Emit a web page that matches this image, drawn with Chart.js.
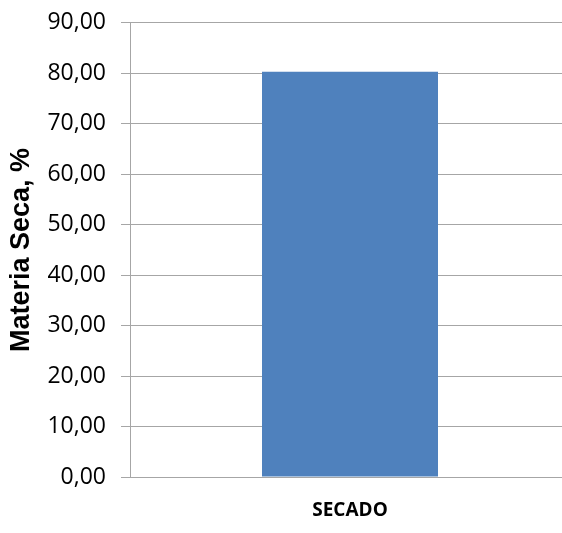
<!DOCTYPE html>
<html>
<head>
<meta charset="utf-8">
<script src="https://cdn.jsdelivr.net/npm/chart.js@4"></script>
<style>
  html, body { margin: 0; padding: 0; background: #fff; overflow: hidden; }
  #wrap { width: 562px; height: 533px; overflow: hidden; }
</style>
</head>
<body>
<div id="wrap"><canvas id="chart" width="570" height="533"></canvas></div>
<script>
// --- DATA ---
const categories = ['SECADO'];
const materiaSeca = [80.3];
const yTitle = 'Materia Seca, %';

const gridColor = '#a6a6a6';

const ctx = document.getElementById('chart').getContext('2d');
new Chart(ctx, {
    type: 'bar',
    data: {
        labels: categories,
        datasets: [{
            label: yTitle,
            data: materiaSeca,
            backgroundColor: '#4f81bd',
            borderWidth: 0,
            barPercentage: 0.4,
            categoryPercentage: 1
        }]
    },
    options: {
        responsive: false,
        animation: false,
        layout: { padding: { top: 2, right: 0, left: 0, bottom: 0 } },
        plugins: {
            legend: { display: false },
            tooltip: { enabled: false }
        },
        scales: {
            x: {
                grid: { display: false },
                border: { display: false },
                ticks: {
                    color: '#000',
                    padding: 14,
                    font: { family: 'Open Sans', size: 19, weight: 'bold' }
                },
                afterFit: (scale) => { scale.height = 56; }
            },
            y: {
                min: 0,
                max: 90,
                ticks: {
                    stepSize: 10,
                    color: '#000',
                    padding: 15,
                    font: { family: 'Open Sans', size: 23, lineHeight: 0.69 },
                    callback: (v) => v.toFixed(2).replace('.', ',')
                },
                grid: { color: gridColor, tickLength: 9, lineWidth: 1 },
                border: { color: gridColor },
                title: {
                    display: true,
                    text: yTitle,
                    color: '#000',
                    padding: { top: 5, bottom: 0 },
                    font: { family: 'Liberation Sans', size: 27, weight: 'bold' }
                },
                afterFit: (scale) => { scale.width = 130; }
            }
        }
    }
});
</script>
</body>
</html>
